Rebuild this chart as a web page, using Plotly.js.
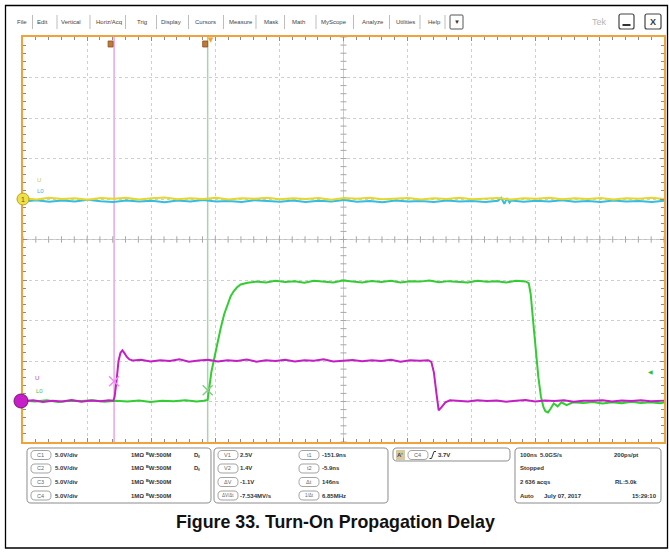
<!DOCTYPE html>
<html><head><meta charset="utf-8">
<script src="https://cdn.plot.ly/plotly-3.0.1.min.js"></script>
<style>html,body{margin:0;padding:0;background:#fff}</style>
</head><body>
<div id="chart" style="width:669px;height:552px"></div>
<script>
// ---- data (time in ns relative to trigger, values in volts) ----
const T_C1 = [-293,-273,-253,-233,-213,-193,-173,-153,-133,-113,-93,-73,-53,-33,-13,7,27,47,67,87,107,127,147,167,187,207,227,247,267,287,307,327,347,367,387,407,427,447,467,487,507,527,547,567,587,607,627,647,667,687,707];
const V_C1 = [0.1,-0.05,0.15,0.0,0.1,-0.1,0.12,0.02,0.15,-0.05,0.08,0.18,-0.02,0.1,0.0,0.14,-0.06,0.1,0.03,0.16,-0.04,0.09,0.0,0.13,-0.08,0.11,0.02,0.15,-0.03,0.08,0.12,-0.05,0.1,0.0,0.16,-0.02,0.07,0.13,-0.06,0.1,0.02,0.14,-0.04,0.09,0.0,0.12,-0.07,0.1,0.04,0.15,0.0];
const T_C2 = [-293,-273,-253,-233,-213,-193,-173,-153,-133,-113,-93,-73,-53,-33,-13,7,27,47,67,87,107,127,147,167,187,207,227,247,267,287,307,327,347,367,387,407,427,447,452,457,461,465,467,487,507,527,547,567,587,607,627,647,667,687,707];
const V_C2 = [-0.3,-0.15,-0.35,-0.2,-0.3,-0.1,-0.28,-0.38,-0.18,-0.3,-0.22,-0.4,-0.2,-0.3,-0.12,-0.32,-0.25,-0.38,-0.15,-0.28,-0.33,-0.2,-0.36,-0.22,-0.3,-0.14,-0.34,-0.25,-0.4,-0.18,-0.3,-0.24,-0.36,-0.2,-0.3,-0.26,-0.38,-0.21,0.15,-0.6,0.1,-0.45,-0.2,-0.35,-0.22,-0.3,-0.16,-0.34,-0.25,-0.38,-0.2,-0.3,-0.24,-0.36,-0.22];
const T_C3 = [-293,-278,-263,-248,-233,-218,-203,-188,-173,-160,-153,-151,-148,-145,-142,-139,-136,-132,-128,-122,-110,-95,-80,-65,-50,-35,-20,-5,10,25,40,55,70,85,100,115,130,145,160,175,190,205,220,235,250,265,280,295,310,325,338,343,347,351,354.5,359,365,372,385,400,415,430,445,460,475,490,505,520,535,550,565,580,595,610,625,640,655,670,685,700,707];
const V_C3 = [0.05,0.15,-0.05,0.1,0.0,0.18,-0.02,0.12,0.02,0.15,0.1,0.6,2.6,5.0,6.0,6.3,6.0,5.5,5.2,5.05,5.15,4.95,5.1,5.0,5.2,4.9,5.05,5.15,4.95,5.1,5.0,5.18,4.92,5.08,5.0,5.15,4.95,5.1,5.02,5.2,4.94,5.06,5.12,4.96,5.1,5.0,5.16,4.92,5.08,5.02,5.1,4.9,3.6,1.0,-1.1,-0.7,-0.1,0.15,0.1,0.0,0.15,0.05,0.12,-0.02,0.1,0.18,0.0,0.12,0.05,0.15,-0.03,0.1,0.08,0.16,0.0,0.12,0.05,0.15,0.02,0.1,0.08];
const T_C4 = [-293,-275,-257,-239,-221,-203,-185,-167,-149,-131,-113,-95,-77,-59,-41,-23,-12,-6,0,3.4,8,14.3,20,25.3,30,34.6,40,45.6,56.5,70,85,100,115,130,145,160,175,190,205,220,235,250,265,280,295,310,325,340,355,370,385,400,415,430,445,460,475,490,495,498,502,506,510,514,518,521,525,529,534,540,546,554,564,580,595,610,625,640,655,670,685,700,707];
const V_C4 = [0.1,0.0,0.15,-0.05,0.1,0.05,0.15,-0.02,0.1,0.0,0.12,-0.05,0.1,0.02,0.15,0.0,0.1,0.2,3.7,5.0,6.8,9.0,10.8,12.0,13.0,13.6,14.1,14.45,14.65,14.8,14.7,14.9,14.75,14.85,14.65,14.9,14.8,14.7,14.95,14.8,14.7,14.88,14.75,14.9,14.68,14.85,14.8,14.95,14.72,14.86,14.8,14.7,14.92,14.78,14.85,14.7,14.9,14.82,14.6,13.3,9.8,6.2,3.0,0.6,-0.7,-1.2,-1.35,-0.9,-0.25,-0.6,-0.1,-0.45,-0.1,-0.2,-0.05,-0.25,-0.1,-0.2,-0.02,-0.18,-0.08,-0.22,-0.1];
const CURSOR_T = [-151.9, -5.9];   // t1, t2 (ns)
const CURSOR_V = [2.5, 1.4];       // V1 on C3, V2 on C4
const TRIG_LEVEL = 3.7;            // C4 rising
const X_RANGE = [-294, 706];
const VPD = 5;                     // volts per division
const MENU = ['File','Edit','Vertical','Horiz/Acq','Trig','Display','Cursors','Measure','Mask','Math','MyScope','Analyze','Utilities','Help'];
const CH_LABELS = ['C1','C2','C3','C4'];
const CH_SCALE = ['5.0V/div','5.0V/div','5.0V/div','5.0V/div'];
const CUR_V_LABELS = ['V1','V2','ΔV','ΔV/Δt'];
const CUR_V_VALUES = ['2.5V','1.4V','-1.1V','-7.534MV/s'];
const CUR_T_LABELS = ['t1','t2','Δt','1/Δt'];
const CUR_T_VALUES = ['-151.9ns','-5.9ns','146ns','6.85MHz'];

// ---- layout helpers (pixel geometry) ----
const FONT = 'Liberation Sans, Arial, sans-serif';
const L = 23, R = 664, TOP = 37, BOT = 442;
const OFF = {C1: 1, C2: 1, C3: -4, C4: -4};
const P = x => +((x - L) / (R - L)).toFixed(5);
const Qy = y => +((BOT - y) / (BOT - TOP)).toFixed(5);
const shapes = [], ann = [];
function text(x, y, s, o) {
  o = o || {};
  ann.push({xref:'paper', yref:'paper', x:P(x), y:Qy(y), text:s, showarrow:false,
    xanchor:o.xa || 'left', yanchor:'middle', borderpad:0,
    font:{family:FONT, size:o.size || 6, color:o.color || '#333'}});
}
function rrect(x0, y0, x1, y1, r, line, fill, lw) {
  const a = P(x0), b = P(x1), c = Qy(y0), d = Qy(y1);
  const rx = r / (R - L), ry = r / (BOT - TOP);
  const f = v => v.toFixed(5);
  const p = `M${f(a+rx)},${f(c)} L${f(b-rx)},${f(c)} Q${f(b)},${f(c)} ${f(b)},${f(c-ry)} L${f(b)},${f(d+ry)} Q${f(b)},${f(d)} ${f(b-rx)},${f(d)} L${f(a+rx)},${f(d)} Q${f(a)},${f(d)} ${f(a)},${f(d+ry)} L${f(a)},${f(c-ry)} Q${f(a)},${f(c)} ${f(a+rx)},${f(c)} Z`;
  shapes.push({type:'path', xref:'paper', yref:'paper', path:p,
    line:{color:line, width:lw || 1}, fillcolor:fill || 'rgba(0,0,0,0)', layer:'above'});
}
function seg(x0, y0, x1, y1, color, w) {
  shapes.push({type:'line', xref:'paper', yref:'paper', x0:P(x0), y0:Qy(y0), x1:P(x1), y1:Qy(y1), line:{color:color, width:w || 1}});
}
function pill(x0, x1, y, label, size) {
  rrect(x0, y - 4.5, x1, y + 4.5, 4, '#8c8c8c', '#fff', 0.8);
  text((x0 + x1) / 2, y, label, {xa:'center', size:size || 5.5, color:'#666'});
}
const B = s => '<b>' + s + '</b>';

// ---- outer frame ----
shapes.push({type:'rect', xref:'paper', yref:'paper', x0:P(5.5), x1:P(667.5), y0:Qy(548), y1:Qy(5.5), line:{color:'#000', width:1.3}, layer:'above'});

// ---- graticule centre cross ----
const XC = (X_RANGE[0] + X_RANGE[1]) / 2;
shapes.push({type:'line', xref:'paper', yref:'y', x0:0, x1:1, y0:0, y1:0, line:{color:'#c0c0c0', width:1}, layer:'between'});
shapes.push({type:'line', xref:'x', yref:'paper', x0:XC, x1:XC, y0:0, y1:1, line:{color:'#c8c8c8', width:1}, layer:'between'});
for (let k = 0; k <= 50; k++) {
  const x = X_RANGE[0] + 20 * k;
  shapes.push({type:'line', xref:'x', yref:'y', x0:x, x1:x, y0:-0.08, y1:0.08, line:{color:'#a8a8a8', width:1}, layer:'between'});
  const y = -5 + 0.2 * k;
  shapes.push({type:'line', xref:'x', yref:'y', x0:XC - 4.7, x1:XC + 4.7, y0:y, y1:y, line:{color:'#a8a8a8', width:1}, layer:'between'});
}

// ---- cursors ----
shapes.push({type:'line', xref:'x', yref:'paper', x0:CURSOR_T[0], x1:CURSOR_T[0], y0:0, y1:1, line:{color:'#e9a4e9', width:1.5}, layer:'between'});
shapes.push({type:'line', xref:'x', yref:'paper', x0:CURSOR_T[1], x1:CURSOR_T[1], y0:0, y1:1, line:{color:'#a9d6a9', width:1.5}, layer:'between'});
const tpx = t => L + (t - X_RANGE[0]) / (X_RANGE[1] - X_RANGE[0]) * (R - L);
shapes.push({type:'rect', xref:'paper', yref:'paper', x0:P(tpx(CURSOR_T[0]) - 6), x1:P(tpx(CURSOR_T[0]) - 1), y0:Qy(47), y1:Qy(41), fillcolor:'#c07a35', line:{color:'#8a5020', width:0.8}});
shapes.push({type:'rect', xref:'paper', yref:'paper', x0:P(tpx(CURSOR_T[1]) - 5), x1:P(tpx(CURSOR_T[1])), y0:Qy(47), y1:Qy(41), fillcolor:'#c07a35', line:{color:'#8a5020', width:0.8}});
ann.push({xref:'x', yref:'paper', x:0, y:Qy(40), text:'▼', showarrow:false, font:{family:'DejaVu Sans', size:7, color:'#f0a030'}, yanchor:'middle'});

// ---- channel markers on the left ----
shapes.push({type:'circle', xref:'paper', yref:'paper', x0:P(17), x1:P(29), y0:Qy(205), y1:Qy(193), fillcolor:'#eee04a', line:{color:'#b9a51c', width:1}});
text(23, 199.5, '1', {xa:'center', size:7, color:'#6a5c00'});
shapes.push({type:'circle', xref:'paper', yref:'paper', x0:P(14), x1:P(28), y0:Qy(408), y1:Qy(394), fillcolor:'#c81ec8', line:{color:'#7a147a', width:1}});
text(36, 180, 'U', {size:6, color:'#d4c64a'});
text(36, 191, 'L0', {size:6, color:'#3cb4dc'});
text(34, 378, 'U', {size:6, color:'#c040c0'});
text(35, 391, 'L0', {size:6, color:'#48c048'});
ann.push({xref:'paper', yref:'y', x:P(655), y:OFF.C4 + TRIG_LEVEL / VPD, text:'◀', showarrow:false, font:{family:'DejaVu Sans', size:6, color:'#30c030'}});

// ---- menu bar ----
const MENU_X = [22,43,71,109,142,171,206,241,271,298,334,373,406,434];
MENU.forEach((m, i) => text(MENU_X[i], 22, m, {xa:'center', size:6, color:'#444'}));
for (let i = 0; i < MENU_X.length; i++) {
  const sx = i < MENU_X.length - 1 ? (MENU_X[i] + MENU_X[i + 1]) / 2 : 445;
  seg(sx, 15, sx, 29, '#bdbdbd', 1);
}
rrect(450, 15, 463, 29, 1, '#555', '#fff', 1);
text(456.5, 22, '▼', {xa:'center', size:6, color:'#333'});
text(599, 22, 'Tek', {xa:'center', size:9, color:'#b5b5b5'});
rrect(619, 14, 634, 29, 2, '#444', '#fff', 1.2);
seg(622.5, 25, 630.5, 25, '#333', 2);
rrect(645, 14, 661, 29, 2, '#444', '#fff', 1.2);
text(653, 22, B('X'), {xa:'center', size:9, color:'#333'});

// ---- bottom information panels ----
const ROWS = [455, 468.5, 482, 495.5];
rrect(27, 448, 211, 503, 4, '#8c8c8c', '#fff', 1);
ROWS.forEach((y, i) => {
  pill(31, 51, y, CH_LABELS[i]);
  text(54, y, B(CH_SCALE[i]));
  text(130, y, B('1MΩ'));
  text(145, y, B('ᴮW:500M'));
  if (i < 2) text(193, y, B('Dₛ'));
});
rrect(214, 448, 388, 503, 4, '#8c8c8c', '#fff', 1);
ROWS.forEach((y, i) => {
  pill(218, 238, y, CUR_V_LABELS[i], i === 3 ? 4.5 : 5.5);
  text(239.5, y, B(CUR_V_VALUES[i]));
  pill(299, 319, y, CUR_T_LABELS[i], i === 3 ? 4.5 : 5.5);
  text(320.5, y, B(CUR_T_VALUES[i]));
});
rrect(393, 448, 510, 461, 4, '#8c8c8c', '#fff', 1);
shapes.push({type:'rect', xref:'paper', yref:'paper', x0:P(396), x1:P(405), y0:Qy(460), y1:Qy(450), fillcolor:'#d9c9a3', line:{width:0}});
text(400.5, 455, B("A'"), {xa:'center', size:6, color:'#444'});
pill(408, 428, 455, 'C4');
seg(429.5, 458.5, 431.5, 458.5, '#333', 1);
seg(431.5, 458.5, 434, 451.5, '#333', 1);
seg(434, 451.5, 436, 451.5, '#333', 1);
text(437, 455, B('3.7V'));
rrect(515, 448, 661, 503, 4, '#8c8c8c', '#fff', 1);
text(519, ROWS[0], B('100ns'));
text(539, ROWS[0], B('5.0GS/s'));
text(639, ROWS[0], B('200ps/pt'), {xa:'right'});
text(519, ROWS[1], B('Stopped'));
text(519, ROWS[2], B('2 636 acqs'));
text(638, ROWS[2], B('RL:5.0k'), {xa:'right'});
text(519, ROWS[3], B('Auto'));
text(543, ROWS[3], B('July 07, 2017'));
text(658, ROWS[3], B('15:29:10'), {xa:'right'});

// ---- caption ----
text(335, 522, B('Figure 33. Turn-On Propagation Delay'), {xa:'center', size:17.8, color:'#111'});

// ---- traces ----
function tr(t, v, off, color) {
  return {x:t, y:v.map(a => off + a / VPD), type:'scatter', mode:'lines',
    line:{color:color, width:2}, hoverinfo:'skip', showlegend:false};
}
const data = [
  tr(T_C2, V_C2, OFF.C2, '#33bde3'),
  tr(T_C1, V_C1, OFF.C1, '#e6d72c'),
  tr(T_C4, V_C4, OFF.C4, '#33cc33'),
  tr(T_C3, V_C3, OFF.C3, '#c41fc4'),
  {x:[CURSOR_T[0]], y:[OFF.C3 + CURSOR_V[0] / VPD], mode:'markers', type:'scatter', showlegend:false, hoverinfo:'skip',
   marker:{symbol:'x-thin-open', size:10, color:'#f08cf0', line:{color:'#f08cf0', width:1.5}}},
  {x:[CURSOR_T[1]], y:[OFF.C4 + CURSOR_V[1] / VPD], mode:'markers', type:'scatter', showlegend:false, hoverinfo:'skip',
   marker:{symbol:'x-thin-open', size:10, color:'#86cc86', line:{color:'#86cc86', width:1.5}}}
];

const axisCommon = {showgrid:true, gridcolor:'#cfcfcf', griddash:'dot', gridwidth:1, zeroline:false,
  showticklabels:false, ticks:'inside', ticklen:4, tickcolor:'#8c8c8c', tickwidth:1,
  showline:true, linecolor:'#f2a23a', linewidth:2, mirror:'ticks', fixedrange:true};
const layout = {
  width:669, height:552, margin:{l:L, r:669 - R, t:TOP, b:552 - BOT, pad:0},
  paper_bgcolor:'#fff', plot_bgcolor:'#fff', showlegend:false,
  xaxis:Object.assign({}, axisCommon, {range:X_RANGE, tick0:X_RANGE[0], dtick:100,
    minor:{dtick:20, tick0:X_RANGE[0], ticks:'inside', ticklen:3, tickcolor:'#8c8c8c', showgrid:false}}),
  yaxis:Object.assign({}, axisCommon, {range:[-5, 5], tick0:-5, dtick:1,
    minor:{dtick:0.2, tick0:-5, ticks:'inside', ticklen:3, tickcolor:'#8c8c8c', showgrid:false}}),
  shapes:shapes, annotations:ann
};
Plotly.newPlot('chart', data, layout, {displayModeBar:false, staticPlot:true});
</script>
</body></html>
